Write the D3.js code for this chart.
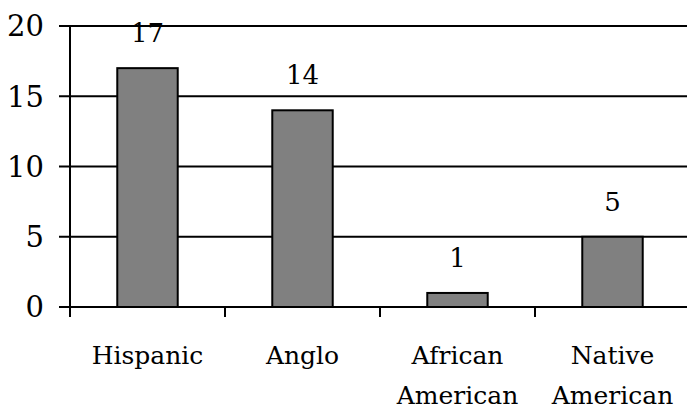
<!DOCTYPE html>
<html>
<head>
<meta charset="utf-8">
<script src="https://cdn.jsdelivr.net/npm/d3@7"></script>
<style>
  body { margin: 0; background: #fff; }
  svg text { font-family: "DejaVu Serif"; }
</style>
</head>
<body>
<svg id="chart" width="687" height="409"></svg>
<script>
var categories = [["Hispanic"], ["Anglo"], ["African", "American"], ["Native", "American"]];
var values = [17, 14, 1, 5];
var y_ticks = [0, 5, 10, 15, 20];

var svg = d3.select('#chart');
var plot_left = 70, plot_right = 690, plot_top = 26, plot_bottom = 307;

var x = d3.scaleBand()
    .domain(d3.range(categories.length))
    .range([plot_left, plot_right])
    .paddingInner(0.61)
    .paddingOuter(0.305);

var y = d3.scaleLinear()
    .domain([0, 20])
    .range([plot_bottom, plot_top]);

// gridlines
svg.selectAll('line.grid')
    .data(y_ticks)
    .enter()
    .append('line')
    .attr('class', 'grid')
    .attr('x1', plot_left - 11)
    .attr('x2', plot_right)
    .attr('y1', function(d) { return y(d); })
    .attr('y2', function(d) { return y(d); })
    .attr('stroke', 'black')
    .attr('stroke-width', 2);

// y axis line
svg.append('line')
    .attr('x1', plot_left).attr('x2', plot_left)
    .attr('y1', y(20)).attr('y2', plot_bottom + 10)
    .attr('stroke', 'black')
    .attr('stroke-width', 2);

// category ticks
var band_step = x.step();
svg.selectAll('line.xtick')
    .data(d3.range(categories.length))
    .enter()
    .append('line')
    .attr('class', 'xtick')
    .attr('x1', function(d) { return plot_left + d * band_step; })
    .attr('x2', function(d) { return plot_left + d * band_step; })
    .attr('y1', plot_bottom)
    .attr('y2', plot_bottom + 10)
    .attr('stroke', 'black')
    .attr('stroke-width', 2);

// y tick labels
svg.selectAll('text.ytick')
    .data(y_ticks)
    .enter()
    .append('text')
    .attr('class', 'ytick')
    .attr('x', 44)
    .attr('y', function(d) { return y(d); })
    .attr('dy', '0.36em')
    .attr('text-anchor', 'end')
    .style('font-size', '29px')
    .text(function(d) { return d; });

// bars
svg.selectAll('rect.bar')
    .data(values)
    .enter()
    .append('rect')
    .attr('class', 'bar')
    .attr('x', function(d, i) { return x(i); })
    .attr('width', x.bandwidth())
    .attr('y', function(d) { return y(d); })
    .attr('height', function(d) { return y(0) - y(d); })
    .attr('fill', '#808080')
    .attr('stroke', 'black')
    .attr('stroke-width', 2);

// value labels
svg.selectAll('text.value')
    .data(values)
    .enter()
    .append('text')
    .attr('class', 'value')
    .attr('x', function(d, i) { return x(i) + x.bandwidth() / 2; })
    .attr('y', function(d) { return y(d) - 26; })
    .attr('text-anchor', 'middle')
    .style('font-size', '26px')
    .text(function(d) { return d; });

// category labels
var cat = svg.selectAll('text.cat')
    .data(categories)
    .enter()
    .append('text')
    .attr('class', 'cat')
    .attr('text-anchor', 'middle')
    .style('font-size', '25px');

cat.selectAll('tspan')
    .data(function(d, i) { return d.map(function(t) { return {t: t, i: i}; }); })
    .enter()
    .append('tspan')
    .attr('x', function(d) { return x(d.i) + x.bandwidth() / 2; })
    .attr('y', function(d, j) { return 364 + j * 40; })
    .text(function(d) { return d.t; });
</script>
</body>
</html>
